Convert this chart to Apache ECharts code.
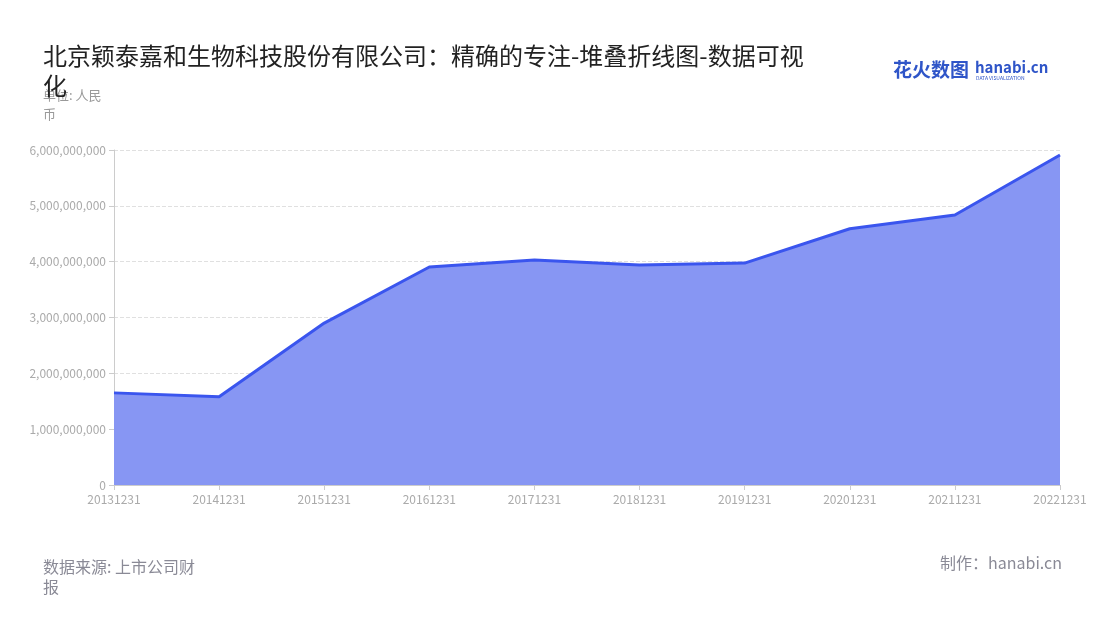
<!DOCTYPE html>
<html><head><meta charset="utf-8">
<script src="https://cdn.jsdelivr.net/npm/echarts@6/dist/echarts.min.js"></script>
<style>html,body{margin:0;padding:0;background:#fff}#c{width:1100px;height:620px}</style>
</head><body><div id="c"></div>
<script>
const categories = ['20131231','20141231','20151231','20161231','20171231','20181231','20191231','20201231','20211231','20221231'];
const values = [1650000000,1580000000,2900000000,3905000000,4030000000,3940000000,3975000000,4590000000,4835000000,5910000000];
const yTicks = { min: 0, max: 6000000000, interval: 1000000000 };
const titleText = '北京颖泰嘉和生物科技股份有限公司：精确的专注-堆叠折线图-数据可视化';
const unitText = '单位: 人民币';
const sourceText = '数据来源: 上市公司财报';
const makerText = '制作：hanabi.cn';

const chart = echarts.init(document.getElementById('c'));
const font = '"Noto Sans CJK SC","Noto Sans",sans-serif';
chart.setOption({
  backgroundColor: '#fff',
  title: {
    text: titleText, left: 38, top: 36,
    textStyle: { fontSize: 24, fontWeight: 'normal', color: '#222', fontFamily: font, width: 775, overflow: 'break', lineHeight: 30 }
  },
  graphic: [
    { type: 'text', left: 43, top: 86, style: { text: unitText, fill: '#999', font: '13px ' + font, width: 70, overflow: 'break', lineHeight: 19 } },
    { type: 'text', left: 43, top: 557, style: { text: sourceText, fill: '#8a8a96', font: '16px ' + font, width: 168, overflow: 'break', lineHeight: 20 } },
    { type: 'text', right: 38, top: 555, style: { text: makerText, fill: '#8a8a96', font: '16px ' + font } },
    { type: 'text', left: 893, top: 60, style: { text: '花火数图', fill: '#2f55c8', font: 'bold 19px ' + font } },
    { type: 'text', left: 975, top: 60, style: { text: 'hanabi.cn', fill: '#2f55c8', font: 'bold 15px ' + font } },
    { type: 'text', left: 976, top: 76, style: { text: 'DATA VISUALIZATION', fill: '#2f55c8', font: '5px ' + font } }
  ],
  grid: { left: 114, right: 40, top: 150, bottom: 135 },
  xAxis: {
    type: 'category', data: categories, boundaryGap: false,
    axisLine: { lineStyle: { color: '#ccc' } },
    axisTick: { show: true, lineStyle: { color: '#ccc' } },
    axisLabel: { color: '#aaa', fontSize: 12, fontFamily: font }
  },
  yAxis: {
    type: 'value', min: yTicks.min, max: yTicks.max, interval: yTicks.interval,
    axisLine: { show: true, lineStyle: { color: '#ccc' } },
    axisTick: { show: true, lineStyle: { color: '#ccc' } },
    axisLabel: { color: '#aaa', fontSize: 12, fontFamily: font, formatter: v => v.toLocaleString('en-US') },
    splitLine: { lineStyle: { type: 'dashed', color: '#e0e0e0' } }
  },
  series: [{
    type: 'line', data: values, symbol: 'none', stack: 'total',
    lineStyle: { color: '#3a55ee', width: 3 },
    itemStyle: { color: '#3a55ee' },
    areaStyle: { color: '#8796f3', opacity: 1 }
  }]
});
</script></body></html>
